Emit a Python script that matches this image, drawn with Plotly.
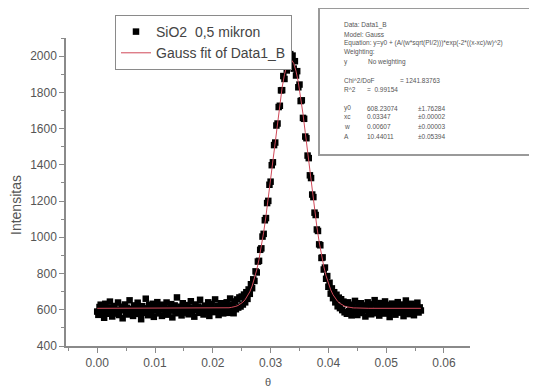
import numpy as np
import plotly.graph_objects as go

# ---------------- data ----------------
x_step = 0.0002          # sampling step of the measured 2-theta scan
n_points = 281           # 0.000 ... 0.056
theta = np.round(np.arange(n_points) * x_step, 4)

intensity = [
    590, 572, 615, 628, 584, 601, 556, 633, 597, 578,
    612, 645, 588, 563, 604, 621, 579, 594, 640, 571,
    598, 617, 553, 606, 629, 585, 611, 574, 652, 593,
    603, 566, 624, 587, 614, 639, 577, 599, 548, 620,
    608, 583, 661, 595, 570, 626, 602, 589, 633, 561,
    615, 597, 642, 580, 609, 628, 566, 601, 619, 586,
    640, 573, 606, 595, 631, 558, 612, 624, 590, 668,
    581, 603, 617, 569, 636, 598, 609, 584, 626, 575,
    612, 647, 593, 604, 562, 629, 600, 618, 583, 655,
    596, 611, 574, 623, 607, 589, 641, 566, 615, 632,
    587, 604, 657, 592, 620, 571, 612, 636, 598, 580,
    625, 596, 641, 583, 618, 662, 594, 627, 581, 646,
    603, 657, 612, 668, 618, 673, 629, 684, 641, 697,
    660, 712, 688, 741, 719, 768, 759, 812, 806, 866,
    870, 931, 939, 1004, 1019, 1094, 1106, 1189, 1201, 1290,
    1307, 1398, 1414, 1509, 1523, 1617, 1628, 1719, 1726, 1811,
    1812, 1890, 1874, 1952, 1921, 1996, 1943, 2011, 1952, 2003,
    1931, 1972, 1893, 1917, 1828, 1843, 1752, 1756, 1659, 1654,
    1556, 1547, 1451, 1437, 1342, 1327, 1236, 1222, 1136, 1123,
    1043, 1035, 961, 956, 886, 889, 822, 833, 771, 786,
    727, 749, 689, 718, 664, 697, 641, 683, 619, 667,
    609, 658, 598, 645, 586, 637, 578, 641, 592, 628,
    569, 623, 587, 649, 603, 571, 618, 595, 636, 582,
    607, 624, 563, 598, 641, 587, 612, 575, 630, 596,
    653, 581, 609, 622, 568, 637, 594, 615, 579, 646,
    601, 588, 627, 560, 611, 634, 592, 619, 573, 605,
    642, 584, 616, 598, 629, 565, 607, 651, 589, 620,
    576, 611, 633, 594, 570, 622, 602, 639, 585, 613,
    596,
]

fit_theta = [0.0, 0.0200, 0.0220, 0.0224, 0.0228, 0.0232, 0.0236, 0.0240, 0.0244,
             0.0248, 0.0252, 0.0256, 0.0260, 0.0264, 0.0268, 0.0272, 0.0276, 0.0280,
             0.0284, 0.0288, 0.0292, 0.0296, 0.0300, 0.0304, 0.0308, 0.0312, 0.0316,
             0.0320, 0.0324, 0.0328, 0.0332, 0.0336, 0.0340, 0.0344, 0.0348, 0.0352,
             0.0356, 0.0360, 0.0364, 0.0368, 0.0372, 0.0376, 0.0380, 0.0384, 0.0388,
             0.0392, 0.0396, 0.0400, 0.0404, 0.0408, 0.0412, 0.0416, 0.0420, 0.0424,
             0.0428, 0.0432, 0.0436, 0.0440, 0.0444, 0.0448, 0.0452, 0.0470, 0.0560]
fit_intensity = [608, 608, 609, 610, 611, 613, 615, 619, 624,
                 631, 642, 656, 675, 699, 731, 771, 820, 879,
                 948, 1028, 1118, 1217, 1322, 1431, 1540, 1645, 1743,
                 1828, 1898, 1947, 1975, 1979, 1960, 1917, 1855, 1774,
                 1681, 1578, 1469, 1360, 1253, 1152, 1059, 975, 902,
                 839, 787, 744, 710, 683, 662, 646, 635, 626,
                 620, 616, 613, 612, 610, 610, 609, 608, 608]

series_names = ["SiO2  0,5 mikron", "Gauss fit of Data1_B"]

fit_report = [
    ["Data: Data1_B"],
    ["Model: Gauss"],
    ["Equation: y=y0 + (A/(w*sqrt(PI/2)))*exp(-2*((x-xc)/w)^2)"],
    ["Weighting:"],
    ["y", "No weighting"],
    ["Chi^2/DoF", "= 1241.83763"],
    ["R^2", "=  0.99154"],
    ["y0", "608.23074", "\u00b11.76284"],
    ["xc", "0.03347", "\u00b10.00002"],
    ["w", "0.00607", "\u00b10.00003"],
    ["A", "10.44011", "\u00b10.05394"],
]

# ---------------- layout helpers (screen pixels) ----------------
OFF = 8                      # page body margin
FIG_W, FIG_H = 537 - OFF, 391 - OFF
L, R, T, B = 66, 470, 38, 346
W, H = R - L, B - T


def px(x):
    return (x - L) / W


def py(y):
    return (B - y) / H


fig = go.Figure()
fig.add_trace(go.Scatter(
    x=theta, y=intensity, mode="markers", name=series_names[0],
    marker=dict(symbol="square", size=6.5, color="black", line=dict(width=0)),
))
fig.add_trace(go.Scatter(
    x=fit_theta, y=fit_intensity, mode="lines", name=series_names[1],
    line=dict(color="#d04858", width=1),
))

axis_common = dict(
    showline=True, linecolor="#8a8a8a", linewidth=1.5,
    showgrid=False, zeroline=False,
    ticks="outside", ticklen=5, tickwidth=1.2, tickcolor="#8a8a8a",
    tickfont=dict(family="Liberation Sans, Arial", size=12, color="#555555"),
)

fig.update_xaxes(
    range=[-0.0054, 0.0645], tickvals=[0.0, 0.01, 0.02, 0.03, 0.04, 0.05, 0.06],
    ticktext=["0.00", "0.01", "0.02", "0.03", "0.04", "0.05", "0.06"],
    minor=dict(ticks="outside", ticklen=3, tickcolor="#8a8a8a", dtick=0.005, tick0=0.005),
    **axis_common,
)
fig.update_yaxes(
    range=[400, 2100], tickvals=[400, 600, 800, 1000, 1200, 1400, 1600, 1800, 2000],
    minor=dict(ticks="outside", ticklen=3, tickcolor="#8a8a8a", dtick=100, tick0=500),
    **axis_common,
)

annotations = [
    dict(x=px(268), y=py(382), xref="paper", yref="paper", text="\u03b8",
         showarrow=False, xanchor="center", yanchor="middle",
         font=dict(family="Liberation Sans, Arial", size=11, color="#555555")),
    dict(x=px(16), y=py(205), xref="paper", yref="paper", text="Intensitas",
         showarrow=False, textangle=-90, xanchor="center", yanchor="middle",
         font=dict(family="Liberation Sans, Arial", size=14, color="#555555")),
]

line_y = [25, 34, 43, 52, 62, 80, 90, 108, 117, 126, 136]
col_x = [[342], [342], [342], [342], [342, 366], [342, 398], [342, 365],
         [342, 365, 416], [342, 365, 416], [342, 365, 416], [342, 365, 416]]
for row, yy, cols in zip(fit_report, line_y, col_x):
    for txt, xx in zip(row, cols):
        annotations.append(dict(
            x=px(xx), y=py(yy), xref="paper", yref="paper", text=txt,
            showarrow=False, xanchor="left", yanchor="middle",
            font=dict(family="Liberation Sans, Arial", size=6.5, color="#555555"),
        ))

fig.update_layout(
    width=FIG_W, height=FIG_H,
    margin=dict(l=L - OFF, r=537 - R, t=T - OFF, b=391 - B, autoexpand=False),
    paper_bgcolor="white", plot_bgcolor="white",
    showlegend=True,
    legend=dict(
        x=px(115), y=py(15), xanchor="left", yanchor="top",
        bgcolor="white", bordercolor="#8a8a8a", borderwidth=1,
        font=dict(family="Liberation Sans, Arial", size=14, color="#444444"),
        tracegroupgap=0,
    ),
    shapes=[
        dict(type="rect", xref="paper", yref="paper",
             x0=px(319), x1=px(534), y0=py(155), y1=py(8),
             line=dict(color="#9a9a9a", width=2), fillcolor="white", layer="above"),
    ],
    annotations=annotations,
)

fig.write_html("out.html")
